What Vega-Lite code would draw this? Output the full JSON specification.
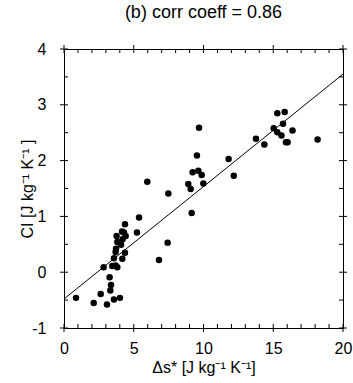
{
  "$schema": "https://vega.github.io/schema/vega-lite/v6.json",
  "autosize": {"type": "none"},
  "padding": {"left": 64, "top": 49, "right": 10, "bottom": 55},
  "width": 279,
  "height": 279,
  "title": {"text": "(b) corr coeff = 0.86", "font": "Liberation Sans", "fontSize": 18, "fontWeight": "normal", "offset": 19, "color": "black"},
  "config": {
    "view": {"stroke": "black", "strokeWidth": 1},
    "axis": {"domain": false, "grid": false, "ticks": false, "labelColor": "black", "titleColor": "black", "labelFont": "Liberation Sans", "titleFont": "Liberation Sans", "labelFontSize": 16, "titleFontSize": 16, "titleFontWeight": "normal", "labelOverlap": false, "labelBound": false, "labelFlush": false},
    "tick": {"color": "black", "thickness": 1, "opacity": 1}
  },
  "datasets": {
    "points": [
      {"ds": 0.86, "ci": -0.46}, {"ds": 2.13, "ci": -0.55}, {"ds": 2.63, "ci": -0.39}, {"ds": 3.08, "ci": -0.58},
      {"ds": 3.32, "ci": -0.33}, {"ds": 3.37, "ci": -0.23}, {"ds": 3.27, "ci": -0.09}, {"ds": 3.58, "ci": -0.49},
      {"ds": 4.01, "ci": -0.46}, {"ds": 2.84, "ci": 0.09}, {"ds": 3.46, "ci": 0.11}, {"ds": 3.70, "ci": 0.12},
      {"ds": 3.82, "ci": 0.09}, {"ds": 3.58, "ci": 0.25}, {"ds": 4.18, "ci": 0.24}, {"ds": 3.73, "ci": 0.42},
      {"ds": 3.70, "ci": 0.36}, {"ds": 4.37, "ci": 0.35}, {"ds": 3.82, "ci": 0.54}, {"ds": 4.09, "ci": 0.49},
      {"ds": 4.20, "ci": 0.59}, {"ds": 3.77, "ci": 0.65}, {"ds": 4.42, "ci": 0.65}, {"ds": 4.16, "ci": 0.73},
      {"ds": 4.30, "ci": 0.71}, {"ds": 4.37, "ci": 0.86}, {"ds": 5.23, "ci": 0.71}, {"ds": 5.38, "ci": 0.98},
      {"ds": 6.81, "ci": 0.22}, {"ds": 7.43, "ci": 0.53}, {"ds": 5.97, "ci": 1.62}, {"ds": 7.48, "ci": 1.41},
      {"ds": 8.91, "ci": 1.58}, {"ds": 9.08, "ci": 1.49}, {"ds": 9.15, "ci": 1.06}, {"ds": 9.22, "ci": 1.79},
      {"ds": 9.63, "ci": 1.82}, {"ds": 9.87, "ci": 1.74}, {"ds": 9.99, "ci": 1.59}, {"ds": 9.53, "ci": 2.09},
      {"ds": 9.68, "ci": 2.59}, {"ds": 11.80, "ci": 2.03}, {"ds": 12.17, "ci": 1.73}, {"ds": 13.76, "ci": 2.39},
      {"ds": 14.36, "ci": 2.29}, {"ds": 15.03, "ci": 2.58}, {"ds": 15.29, "ci": 2.51}, {"ds": 15.59, "ci": 2.45},
      {"ds": 15.70, "ci": 2.66}, {"ds": 15.29, "ci": 2.85}, {"ds": 15.82, "ci": 2.87}, {"ds": 16.38, "ci": 2.54},
      {"ds": 15.91, "ci": 2.33}, {"ds": 16.03, "ci": 2.33}, {"ds": 18.18, "ci": 2.38}
    ],
    "fit": [{"ds": 0, "ci": -0.48}, {"ds": 20, "ci": 3.55}],
    "xmaj": [{"ds": 0}, {"ds": 5}, {"ds": 10}, {"ds": 15}, {"ds": 20}],
    "xmin": [{"ds": 1}, {"ds": 2}, {"ds": 3}, {"ds": 4}, {"ds": 6}, {"ds": 7}, {"ds": 8}, {"ds": 9}, {"ds": 11}, {"ds": 12}, {"ds": 13}, {"ds": 14}, {"ds": 16}, {"ds": 17}, {"ds": 18}, {"ds": 19}],
    "ymaj": [{"ci": -1}, {"ci": 0}, {"ci": 1}, {"ci": 2}, {"ci": 3}, {"ci": 4}],
    "ymin": [{"ci": -0.5}, {"ci": 0.5}, {"ci": 1.5}, {"ci": 2.5}, {"ci": 3.5}]
  },
  "layer": [
    {
      "data": {"name": "points"},
      "mark": {"type": "circle", "size": 42, "color": "black", "opacity": 1},
      "encoding": {
        "x": {"field": "ds", "type": "quantitative", "scale": {"domain": [0, 20], "nice": false, "zero": false},
          "axis": {"orient": "bottom", "values": [0, 5, 10, 15, 20], "labelPadding": 12,
            "title": "Δs* [J kg⁻¹ K⁻¹]", "titlePadding": 3}},
        "y": {"field": "ci", "type": "quantitative", "scale": {"domain": [-1, 4], "nice": false, "zero": false},
          "axis": {"orient": "left", "values": [-1, 0, 1, 2, 3, 4], "labelExpr": "'' + datum.value", "labelPadding": 18,
            "title": "CI  [J kg⁻¹ K⁻¹ ]", "titlePadding": -4}}
      }
    },
    {
      "data": {"name": "fit"},
      "mark": {"type": "line", "color": "black", "strokeWidth": 1},
      "encoding": {
        "x": {"field": "ds", "type": "quantitative", "axis": null},
        "y": {"field": "ci", "type": "quantitative", "axis": null}
      }
    },
    {
      "data": {"name": "xmaj"},
      "mark": {"type": "tick", "orient": "vertical", "size": 8},
      "encoding": {
        "x": {"field": "ds", "type": "quantitative", "axis": null},
        "y": {"datum": -1, "type": "quantitative", "axis": null}
      }
    },
    {
      "data": {"name": "xmaj"},
      "mark": {"type": "tick", "orient": "vertical", "size": 8},
      "encoding": {
        "x": {"field": "ds", "type": "quantitative", "axis": null},
        "y": {"datum": 4, "type": "quantitative", "axis": null}
      }
    },
    {
      "data": {"name": "xmin"},
      "mark": {"type": "tick", "orient": "vertical", "size": 4, "yOffset": -2},
      "encoding": {
        "x": {"field": "ds", "type": "quantitative", "axis": null},
        "y": {"datum": -1, "type": "quantitative", "axis": null}
      }
    },
    {
      "data": {"name": "xmin"},
      "mark": {"type": "tick", "orient": "vertical", "size": 4, "yOffset": 2},
      "encoding": {
        "x": {"field": "ds", "type": "quantitative", "axis": null},
        "y": {"datum": 4, "type": "quantitative", "axis": null}
      }
    },
    {
      "data": {"name": "ymaj"},
      "mark": {"type": "tick", "orient": "horizontal", "size": 8},
      "encoding": {
        "y": {"field": "ci", "type": "quantitative", "axis": null},
        "x": {"datum": 0, "type": "quantitative", "axis": null}
      }
    },
    {
      "data": {"name": "ymaj"},
      "mark": {"type": "tick", "orient": "horizontal", "size": 8},
      "encoding": {
        "y": {"field": "ci", "type": "quantitative", "axis": null},
        "x": {"datum": 20, "type": "quantitative", "axis": null}
      }
    },
    {
      "data": {"name": "ymin"},
      "mark": {"type": "tick", "orient": "horizontal", "size": 4, "xOffset": 2},
      "encoding": {
        "y": {"field": "ci", "type": "quantitative", "axis": null},
        "x": {"datum": 0, "type": "quantitative", "axis": null}
      }
    },
    {
      "data": {"name": "ymin"},
      "mark": {"type": "tick", "orient": "horizontal", "size": 4, "xOffset": -2},
      "encoding": {
        "y": {"field": "ci", "type": "quantitative", "axis": null},
        "x": {"datum": 20, "type": "quantitative", "axis": null}
      }
    }
  ],
  "resolve": {"axis": {"x": "independent", "y": "independent"}}
}
